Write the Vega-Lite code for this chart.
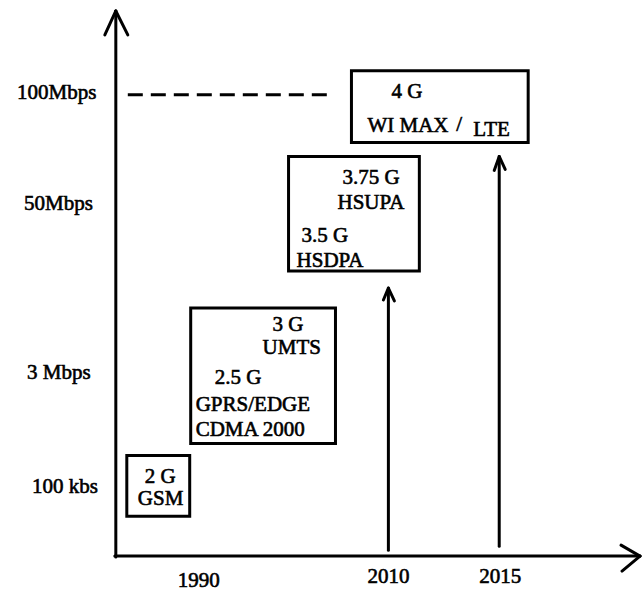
{
  "$schema": "https://vega.github.io/schema/vega-lite/v6.json",
  "width": 642,
  "height": 591,
  "autosize": {"type": "fit", "contains": "padding"},
  "padding": 0,
  "background": "white",
  "config": {"view": {"stroke": null}},
  "datasets": {
    "segments": [
      {"x": 116, "y": 11, "x2": 116, "y2": 559},
      {"x": 105, "y": 35, "x2": 116, "y2": 11},
      {"x": 116, "y": 11, "x2": 128, "y2": 35},
      {"x": 115, "y": 558, "x2": 641, "y2": 558},
      {"x": 622, "y": 547, "x2": 641, "y2": 558},
      {"x": 641, "y": 558, "x2": 623, "y2": 573},
      {"x": 389, "y": 552, "x2": 389, "y2": 290},
      {"x": 384, "y": 301, "x2": 389, "y2": 289},
      {"x": 389, "y": 289, "x2": 395, "y2": 302},
      {"x": 500, "y": 548, "x2": 500, "y2": 158},
      {"x": 495, "y": 171, "x2": 500, "y2": 157},
      {"x": 500, "y": 157, "x2": 506, "y2": 170}
    ],
    "dashed": [
      {"x": 128, "y": 95, "x2": 334, "y2": 95}
    ],
    "boxes": [
      {"x": 127, "y": 457, "x2": 190, "y2": 518},
      {"x": 191, "y": 309, "x2": 336, "y2": 445},
      {"x": 289, "y": 157, "x2": 420, "y2": 272},
      {"x": 352, "y": 71, "x2": 529, "y2": 143}
    ],
    "axisLabels": [
      {"x": 17, "y": 99, "label": "100Mbps"},
      {"x": 24, "y": 211, "label": "50Mbps"},
      {"x": 27, "y": 380, "label": "3 Mbps"},
      {"x": 32, "y": 495, "label": "100 kbs"},
      {"x": 178, "y": 589, "label": "1990"},
      {"x": 368, "y": 585, "label": "2010"},
      {"x": 480, "y": 585, "label": "2015"}
    ],
    "boxLabels": [
      {"x": 145, "y": 485, "label": "2 G"},
      {"x": 138, "y": 507, "label": "GSM"},
      {"x": 273, "y": 332, "label": "3 G"},
      {"x": 263, "y": 355, "label": "UMTS"},
      {"x": 215, "y": 385, "label": "2.5 G"},
      {"x": 196, "y": 412, "label": "GPRS/EDGE"},
      {"x": 196, "y": 437, "label": "CDMA 2000"},
      {"x": 343, "y": 185, "label": "3.75 G"},
      {"x": 338, "y": 210, "label": "HSUPA"},
      {"x": 302, "y": 243, "label": "3.5 G"},
      {"x": 297, "y": 268, "label": "HSDPA"},
      {"x": 392, "y": 98, "label": "4 G"},
      {"x": 368, "y": 132, "label": "WI MAX"},
      {"x": 457, "y": 131, "label": "/"},
      {"x": 474, "y": 136, "label": "LTE"}
    ]
  },
  "layer": [
    {
      "data": {"name": "segments"},
      "mark": {"type": "rule", "color": "black", "strokeWidth": 3, "strokeCap": "round"},
      "encoding": {
        "x": {"field": "x", "type": "quantitative", "axis": null, "scale": {"domain": [0, 642], "nice": false, "zero": false}},
        "x2": {"field": "x2"},
        "y": {"field": "y", "type": "quantitative", "axis": null, "scale": {"domain": [0, 591], "nice": false, "zero": false, "reverse": true}},
        "y2": {"field": "y2"}
      }
    },
    {
      "data": {"name": "dashed"},
      "mark": {"type": "rule", "color": "black", "strokeWidth": 3, "strokeDash": [15, 8]},
      "encoding": {
        "x": {"field": "x", "type": "quantitative", "axis": null, "scale": {"domain": [0, 642], "nice": false, "zero": false}},
        "x2": {"field": "x2"},
        "y": {"field": "y", "type": "quantitative", "axis": null, "scale": {"domain": [0, 591], "nice": false, "zero": false, "reverse": true}},
        "y2": {"field": "y2"}
      }
    },
    {
      "data": {"name": "boxes"},
      "mark": {"type": "rect", "filled": false, "stroke": "black", "strokeWidth": 3},
      "encoding": {
        "x": {"field": "x", "type": "quantitative", "axis": null, "scale": {"domain": [0, 642], "nice": false, "zero": false}},
        "x2": {"field": "x2"},
        "y": {"field": "y", "type": "quantitative", "axis": null, "scale": {"domain": [0, 591], "nice": false, "zero": false, "reverse": true}},
        "y2": {"field": "y2"}
      }
    },
    {
      "data": {"name": "axisLabels"},
      "mark": {"type": "text", "align": "left", "baseline": "alphabetic", "font": "Liberation Serif", "fontSize": 21, "color": "black", "stroke": "black", "strokeWidth": 0.6},
      "encoding": {
        "x": {"field": "x", "type": "quantitative", "axis": null, "scale": {"domain": [0, 642], "nice": false, "zero": false}},
        "y": {"field": "y", "type": "quantitative", "axis": null, "scale": {"domain": [0, 591], "nice": false, "zero": false, "reverse": true}},
        "text": {"field": "label"}
      }
    },
    {
      "data": {"name": "boxLabels"},
      "mark": {"type": "text", "align": "left", "baseline": "alphabetic", "font": "Liberation Serif", "fontSize": 21, "color": "black", "stroke": "black", "strokeWidth": 0.6},
      "encoding": {
        "x": {"field": "x", "type": "quantitative", "axis": null, "scale": {"domain": [0, 642], "nice": false, "zero": false}},
        "y": {"field": "y", "type": "quantitative", "axis": null, "scale": {"domain": [0, 591], "nice": false, "zero": false, "reverse": true}},
        "text": {"field": "label"}
      }
    }
  ]
}
